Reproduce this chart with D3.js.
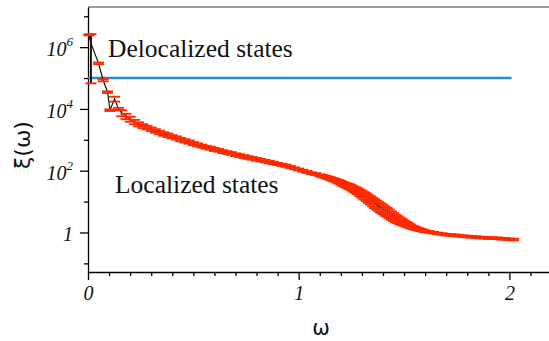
<!DOCTYPE html>
<html>
<head>
<meta charset="utf-8">
<script src="https://cdn.jsdelivr.net/npm/d3@7"></script>
<style>
  body { margin: 0; background: #fff; }
  svg { display: block; }
</style>
</head>
<body>
<svg id="chart" width="549" height="341"></svg>
<script>
// Localization length xi(omega) with error bars
const omega = [
  0.004, 0.014, 0.05, 0.072, 0.093, 0.104, 0.126, 0.145,
  0.16, 0.18, 0.20, 0.22, 0.24, 0.26, 0.28, 0.30, 0.32, 0.34, 0.36, 0.38, 0.40, 0.42, 0.44, 0.46, 0.48,
  0.50, 0.52, 0.54, 0.56, 0.58, 0.60, 0.62, 0.64, 0.66, 0.68, 0.70, 0.72, 0.74, 0.76, 0.78, 0.80,
  0.82, 0.84, 0.86, 0.88, 0.90, 0.92, 0.94, 0.96, 0.98, 1.00, 1.02, 1.04, 1.06, 1.08,
  1.10, 1.11, 1.12, 1.13, 1.14, 1.15, 1.16, 1.17, 1.18, 1.19, 1.20, 1.21, 1.22, 1.23, 1.24, 1.25,
  1.26, 1.27, 1.28, 1.29, 1.30, 1.31, 1.32, 1.33, 1.34, 1.35, 1.36, 1.37, 1.38, 1.39, 1.40, 1.41,
  1.42, 1.43, 1.44, 1.45, 1.46, 1.47, 1.48, 1.49, 1.50, 1.51, 1.52, 1.53, 1.54, 1.55, 1.56, 1.57,
  1.58, 1.59, 1.60, 1.62, 1.64, 1.66, 1.68, 1.70,
  1.72, 1.74, 1.76, 1.78, 1.80, 1.82, 1.84, 1.86, 1.88, 1.90, 1.92, 1.94, 1.96, 1.98, 2.00, 2.02
];
const xi = [
  2.5e6, 1.35e6, 3.0e5, 8.5e4, 3.5e4, 9.1e3, 2.1e4, 1.0e4,
  7400, 5800, 4700, 3800, 3200, 2800, 2500, 2200, 1950, 1740, 1550, 1410, 1260, 1150, 1020, 930, 850,
  760, 690, 630, 575, 537, 490, 457, 417, 389, 363, 331, 309, 288, 269, 251, 234,
  219, 204, 191, 178, 166, 155, 145, 132, 120, 110, 100, 91, 83, 78,
  71, 68, 65, 62, 59, 56, 52, 50, 47, 44, 41, 38, 35, 33, 31, 28.5,
  26, 24, 22, 19.7, 17.8, 16, 14.5, 12.9, 11.5, 10.2, 9.1, 8.1, 7.2, 6.5, 5.9, 5.2,
  4.7, 4.2, 3.7, 3.3, 2.95, 2.7, 2.45, 2.24, 2.04, 1.88, 1.74, 1.60, 1.48, 1.40, 1.32, 1.26,
  1.20, 1.15, 1.10, 1.05, 0.98, 0.93, 0.89, 0.85,
  0.83, 0.81, 0.79, 0.76, 0.74, 0.72, 0.71, 0.69, 0.68, 0.66, 0.66, 0.65, 0.63, 0.62, 0.60, 0.59
];
// relative error of each point
const xiRelErr = [
  0.04, 0.95, 0.06, 0.08, 0.06, 0.06, 0.18, 0.08,
  0.22, 0.20, 0.18, 0.16, 0.15, 0.14, 0.13, 0.13, 0.13, 0.13, 0.13, 0.13, 0.12, 0.12, 0.12, 0.12, 0.12,
  0.11, 0.11, 0.11, 0.11, 0.11, 0.11, 0.10, 0.10, 0.10, 0.10, 0.10, 0.10, 0.10, 0.10, 0.10, 0.10,
  0.09, 0.09, 0.09, 0.09, 0.08, 0.08, 0.08, 0.07, 0.07, 0.07, 0.07, 0.07, 0.07, 0.07,
  0.07, 0.075, 0.08, 0.085, 0.09, 0.095, 0.10, 0.11, 0.12, 0.13, 0.14, 0.15, 0.16, 0.17, 0.18, 0.19,
  0.20, 0.21, 0.22, 0.235, 0.25, 0.265, 0.28, 0.29, 0.30, 0.31, 0.32, 0.325, 0.33, 0.33, 0.33, 0.325,
  0.32, 0.31, 0.30, 0.285, 0.27, 0.255, 0.24, 0.22, 0.20, 0.18, 0.16, 0.14, 0.12, 0.11, 0.10, 0.09,
  0.08, 0.075, 0.07, 0.06, 0.06, 0.06, 0.06, 0.06,
  0.06, 0.06, 0.06, 0.06, 0.06, 0.06, 0.06, 0.06, 0.06, 0.06, 0.06, 0.06, 0.06, 0.06, 0.06, 0.06
];

// delocalized plateau
const plateauOmega = [0, 2.01];
const plateauXi = [1e5, 1e5];

// ticks
const xMajorTicks = [0, 1, 2];
const xMinorTicks = [0.1, 0.2, 0.3, 0.4, 0.5, 0.6, 0.7, 0.8, 0.9, 1.1, 1.2, 1.3, 1.4, 1.5, 1.6, 1.7, 1.8, 1.9, 2.1];
const yMajorTicks = [1, 1e2, 1e4, 1e6];
const yMinorTicks = [1e-1, 1e1, 1e3, 1e5, 1e7];

const svg = d3.select("#chart");
const plotLeft = 88, plotTop = 7, plotBottom = 272;

const x = d3.scaleLinear().domain([0, 2.2]).range([plotLeft, plotLeft + 2.2 * 210.7]);
const y = d3.scaleLog().domain([Math.pow(10, -1.28), Math.pow(10, 7.3)]).range([plotBottom, plotTop]);

const serif = "'Liberation Serif', 'Times New Roman', serif";

// top frame line
svg.append("line")
  .attr("x1", plotLeft).attr("x2", 549).attr("y1", plotTop).attr("y2", plotTop)
  .attr("stroke", "#7a7a7a").attr("stroke-width", 1.5);

// x axis
const gx = svg.append("g").attr("transform", `translate(0,${plotBottom})`);
gx.call(d3.axisBottom(x).tickValues(xMajorTicks).tickSize(8).tickSizeOuter(0).tickPadding(6)
  .tickFormat(d3.format("d")));
const gxm = svg.append("g").attr("transform", `translate(0,${plotBottom})`);
gxm.call(d3.axisBottom(x).tickValues(xMinorTicks).tickSize(4).tickSizeOuter(0).tickFormat(""));
gxm.select(".domain").remove();

// y axis
const gy = svg.append("g").attr("transform", `translate(${plotLeft},0)`);
gy.call(d3.axisLeft(y).tickValues(yMajorTicks).tickSize(8).tickSizeOuter(0).tickPadding(7)
  .tickFormat(() => ""));
const gym = svg.append("g").attr("transform", `translate(${plotLeft},0)`);
gym.call(d3.axisLeft(y).tickValues(yMinorTicks).tickSize(4).tickSizeOuter(0).tickFormat(""));
gym.select(".domain").remove();

// y tick labels as powers of ten
gy.selectAll(".tick text").each(function(d) {
  const t = d3.select(this);
  const e = Math.round(Math.log10(d));
  t.text(null).attr("dy", "0.42em");
  if (e === 0) {
    t.text("1");
  } else {
    t.append("tspan").text("10");
    t.append("tspan").style("font-size", "13px").attr("dy", "-0.75em").text(e);
  }
});

svg.selectAll(".domain, .tick line").attr("stroke", "#000").attr("stroke-width", 1.3);
svg.selectAll(".tick text")
  .attr("fill", "#111")
  .style("font-family", serif).style("font-style", "italic").style("font-size", "20px");

// data series
const pts = omega.map((w, i) => ({ w, v: xi[i], e: xiRelErr[i] * xi[i] }));

// plateau (delocalized states)
svg.append("path")
  .datum(plateauOmega.map((w, i) => [w, plateauXi[i]]))
  .attr("fill", "none").attr("stroke", "#2b8ac9").attr("stroke-width", 2.6)
  .attr("d", d3.line().x(d => x(d[0])).y(d => y(d[1])));

// connecting line
svg.append("path")
  .datum(pts)
  .attr("fill", "none").attr("stroke", "#000").attr("stroke-width", 1.1)
  .attr("d", d3.line().x(d => x(d.w)).y(d => y(d.v)));

// error bar stems
svg.append("g").selectAll("line").data(pts).join("line")
  .attr("x1", d => x(d.w)).attr("x2", d => x(d.w))
  .attr("y1", d => y(d.v + d.e)).attr("y2", d => y(d.v - d.e))
  .attr("stroke", "#1a0000").attr("stroke-width", d => d.e / d.v > 0.5 ? 1.8 : 0.9);

// error bar caps
const capHalf = 5.5;
const caps = svg.append("g");
["hi", "lo"].forEach(side => {
  caps.append("g").selectAll("line").data(pts).join("line")
    .attr("x1", d => x(d.w) - capHalf).attr("x2", d => x(d.w) + capHalf)
    .attr("y1", d => y(side === "hi" ? d.v + d.e : d.v - d.e))
    .attr("y2", d => y(side === "hi" ? d.v + d.e : d.v - d.e))
    .attr("stroke", "#ff2a00").attr("stroke-width", 1.9);
});

// annotations
svg.append("text").attr("x", 108).attr("y", 57)
  .attr("font-family", serif).attr("font-size", 25.5).attr("fill", "#111")
  .text("Delocalized states");
svg.append("text").attr("x", 115).attr("y", 193)
  .attr("font-family", serif).attr("font-size", 25.5).attr("fill", "#111")
  .text("Localized states");

// axis titles
svg.append("text")
  .attr("transform", "translate(30,145) rotate(-90)")
  .attr("text-anchor", "middle")
  .attr("font-family", "'DejaVu Sans', sans-serif").attr("font-size", 22).attr("fill", "#111")
  .text("ξ(ω)");
svg.append("text")
  .attr("x", 321).attr("y", 335).attr("text-anchor", "middle")
  .attr("font-family", "'DejaVu Sans', sans-serif").attr("font-size", 21).attr("fill", "#111")
  .text("ω");
</script>
</body>
</html>
